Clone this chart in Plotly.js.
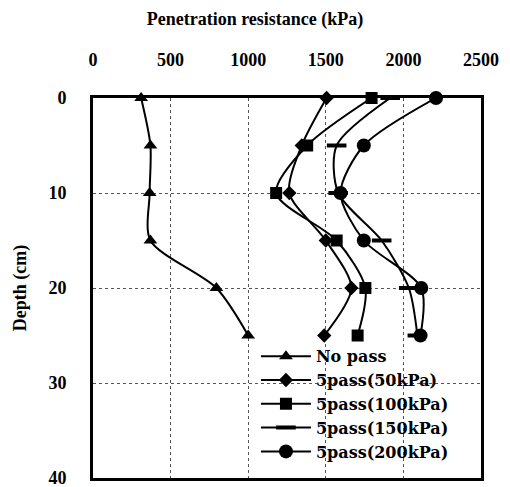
<!DOCTYPE html>
<html><head><meta charset="utf-8">
<script src="https://cdn.plot.ly/plotly-3.0.1.min.js"></script>
<style>html,body{margin:0;padding:0;background:#fff;}#chart{width:510px;height:487px;}</style>
</head><body><div id="chart"></div>
<script>
const depth = [0, 5, 10, 15, 20, 25];
const noPass = [310, 370, 365, 370, 795, 1000];
const pass50 = [1505, 1345, 1265, 1500, 1665, 1490];
const pass100 = [1795, 1380, 1180, 1570, 1755, 1705];
const pass150 = [1915, 1570, 1580, 1860, 2035, 2090];
const pass200 = [2210, 1745, 1595, 1745, 2115, 2110];
const seriesNames = ['No pass', '5pass(50kPa)', '5pass(100kPa)', '5pass(150kPa)', '5pass(200kPa)'];
const xTicks = [0, 500, 1000, 1500, 2000, 2500];
const yTicks = [0, 10, 20, 30, 40];

const symbols = ['triangle-up', 'diamond', 'square', 'line-ew', 'circle'];
const sizes = [12, 11, 12, 14, 14];
const data = [noPass, pass50, pass100, pass150, pass200].map((xs, i) => ({
  x: xs, y: depth, name: seriesNames[i], type: 'scatter', mode: 'lines+markers',
  line: {color: '#000', width: 2, shape: 'spline', smoothing: 0.8},
  marker: {symbol: symbols[i], size: sizes[i], color: '#000',
           line: {color: '#000', width: symbols[i] === 'line-ew' ? 4 : 0}},
  cliponaxis: false
}));

const font = {family: 'Liberation Serif, Times New Roman, serif', size: 18, color: '#000', weight: 'bold'};
const layout = {
  width: 510, height: 487,
  margin: {l: 93, r: 29, t: 98, b: 9, autoexpand: false},
  paper_bgcolor: '#fff', plot_bgcolor: '#fff',
  font: font,
  showlegend: true,
  title: {text: 'Penetration resistance (kPa)', font: font, x: 0.5, xanchor: 'center', y: 0.962, yanchor: 'middle'},
  xaxis: {side: 'top', range: [0, 2500], tickvals: xTicks, ticktext: xTicks.map(String),
          showgrid: true, gridcolor: '#555', griddash: 'dot', gridwidth: 1,
          showline: true, mirror: true, linecolor: '#000', linewidth: 3,
          ticks: '', ticklabelstandoff: 22, zeroline: false, tickfont: font},
  yaxis: {range: [40, 0], tickvals: yTicks, ticktext: yTicks.map(String),
          title: {text: 'Depth (cm)', font: font, standoff: 18},
          showgrid: true, gridcolor: '#555', griddash: 'dot', gridwidth: 1,
          showline: true, mirror: true, linecolor: '#000', linewidth: 3,
          ticks: '', ticklabelstandoff: 20, ticklabeloverflow: 'allow', zeroline: false, tickfont: font},
  legend: {x: 0.42, y: 0.365, xanchor: 'left', yanchor: 'top', bgcolor: 'rgba(0,0,0,0)',
           font: {family: 'DejaVu Serif, serif', size: 16, color: '#000', weight: 'bold'},
           itemwidth: 50, tracegroupgap: 0}
};
Plotly.newPlot('chart', data, layout, {displayModeBar: false, staticPlot: true});
</script></body></html>
